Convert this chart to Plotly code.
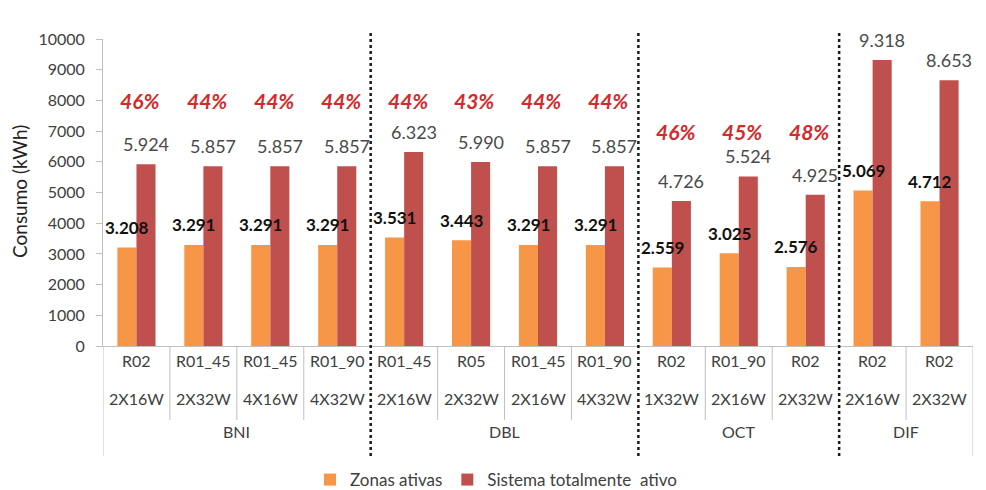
import plotly.graph_objects as go

# ---------------- data ----------------
groups = ["BNI", "DBL", "OCT", "DIF"]
group_sizes = [4, 4, 3, 2]
configs = ["R02", "R01_45", "R01_45", "R01_90",
           "R01_45", "R05", "R01_45", "R01_90",
           "R02", "R01_90", "R02",
           "R02", "R02"]
lamps = ["2X16W", "2X32W", "4X16W", "4X32W",
         "2X16W", "2X32W", "2X16W", "4X32W",
         "1X32W", "2X16W", "2X32W",
         "2X16W", "2X32W"]
zonas_ativas = [3208, 3291, 3291, 3291, 3531, 3443, 3291, 3291, 2559, 3025, 2576, 5069, 4712]
sistema_total = [5924, 5857, 5857, 5857, 6323, 5990, 5857, 5857, 4726, 5524, 4925, 9318, 8653]
percent = [46, 44, 44, 44, 44, 43, 44, 44, 46, 45, 48, 46, 46]
series_names = ["Zonas ativas", "Sistema totalmente\u00a0 ativo"]

# ---------------- style / layout ----------------
ORANGE = "#F79646"
RED = "#C0504D"
PCT_RED = "#D42A2A"
GRAY_TXT = "#404040"
AXIS_GRAY = "#BFBFBF"
FONT = "Lato, 'Open Sans', sans-serif"

PAGE_OFF = 8  # default page body margin offsets the figure by this many pixels
W, H = 986 - PAGE_OFF, 490 - PAGE_OFF
ML, MR, MT, MB = 103 - PAGE_OFF, 13, 39 - PAGE_OFF, 144
PW, PH = W - ML - MR, H - MT - MB
BARGAP = 0.43
pct_label_y = {"BNI": 8000, "DBL": 8000, "OCT": 7000, "DIF": 10450}


def py(page_px):
    """pixel row on the page -> paper y"""
    return (MT + PH - (page_px - PAGE_OFF)) / PH


def px(page_px):
    """pixel column on the page -> paper x"""
    return (page_px - PAGE_OFF - ML) / PW


def fmt(v):
    return f"{v:,}".replace(",", ".")


n = len(configs)
x = list(range(n))
half = (1 - BARGAP) / 4  # half-offset of each bar centre from category centre

fig = go.Figure()
fig.add_trace(go.Bar(x=x, y=zonas_ativas, name=series_names[0], marker_color=ORANGE,
                     marker_line_width=0))
fig.add_trace(go.Bar(x=x, y=sistema_total, name=series_names[1], marker_color=RED,
                     marker_line_width=0))

ann = []
# value labels
for i in range(n):
    ann.append(dict(x=i - half, y=zonas_ativas[i], text=fmt(zonas_ativas[i]), showarrow=False,
                    yshift=20, font=dict(family=FONT, size=17, color="#111111", weight="bold")))
    ann.append(dict(x=i + half, y=sistema_total[i], text=fmt(sistema_total[i]), showarrow=False,
                    yshift=20, font=dict(family=FONT, size=18, color="#4a4a4a")))

# percentage labels
gi = []
for g, s in zip(groups, group_sizes):
    gi += [g] * s
for i in range(n):
    ann.append(dict(x=i + 0.05, y=pct_label_y[gi[i]], text=f"<i>{percent[i]}%</i>", showarrow=False,
                    font=dict(family=FONT, size=21, color=PCT_RED, weight="bold")))

# category label rows
for i in range(n):
    ann.append(dict(x=i, y=py(372), yref="paper", text=configs[i], showarrow=False,
                    font=dict(family=FONT, size=16, color=GRAY_TXT)))
    ann.append(dict(x=i, y=py(410), yref="paper", text=lamps[i], showarrow=False,
                    font=dict(family=FONT, size=16, color=GRAY_TXT)))

shapes = []
start = 0
bounds = []
for g, s in zip(groups, group_sizes):
    center = start + (s - 1) / 2
    ann.append(dict(x=center, y=py(443), yref="paper", text=g, showarrow=False,
                    font=dict(family=FONT, size=16, color=GRAY_TXT)))
    start += s
    bounds.append(start - 0.5)

# separators between categories
for i in range(n - 1):
    b = i + 0.5
    if b in bounds:
        continue
    shapes.append(dict(type="line", xref="x", yref="paper", x0=b, x1=b, y0=0, y1=py(420),
                       line=dict(color=AXIS_GRAY, width=1)))
# outer solid boundaries
for b in (-0.5, n - 0.5):
    shapes.append(dict(type="line", xref="x", yref="paper", x0=b, x1=b, y0=0, y1=py(456),
                       line=dict(color=AXIS_GRAY, width=1)))
# dotted group dividers
for b in bounds[:-1]:
    shapes.append(dict(type="line", xref="x", yref="paper", x0=b, x1=b, y0=py(33), y1=py(457),
                       line=dict(color="#1a1a1a", width=2.5, dash="dot")))

# y axis title
ann.append(dict(x=px(19), xref="paper", xanchor="center", y=py(192), yref="paper",
                yanchor="middle", text="Consumo (kWh)",
                textangle=-90, showarrow=False,
                font=dict(family=FONT, size=19, color="#222222")))

fig.update_layout(
    width=W, height=H, autosize=False,
    margin=dict(l=ML, r=MR, t=MT, b=MB, autoexpand=False),
    paper_bgcolor="white", plot_bgcolor="white",
    barmode="group", bargap=BARGAP, bargroupgap=0,
    font=dict(family=FONT, color=GRAY_TXT),
    xaxis=dict(range=[-0.5, n - 0.5], showticklabels=False, ticks="", showgrid=False,
               zeroline=False, showline=True, linecolor=AXIS_GRAY, linewidth=1,
               automargin=False),
    yaxis=dict(range=[0, 10000], dtick=1000, tickformat="d", showgrid=False, zeroline=False,
               showline=True, linecolor=AXIS_GRAY, linewidth=1, automargin=False,
               ticks="outside", ticklen=6, tickcolor=AXIS_GRAY, ticklabelstandoff=8,
               tickfont=dict(family=FONT, size=16, color=GRAY_TXT)),
    legend=dict(orientation="h", x=px(496), xanchor="center", y=py(480), yanchor="middle",
                font=dict(family=FONT, size=17, color=GRAY_TXT), itemwidth=30,
                traceorder="normal"),
    annotations=ann, shapes=shapes,
)

fig.write_html("out.html")
